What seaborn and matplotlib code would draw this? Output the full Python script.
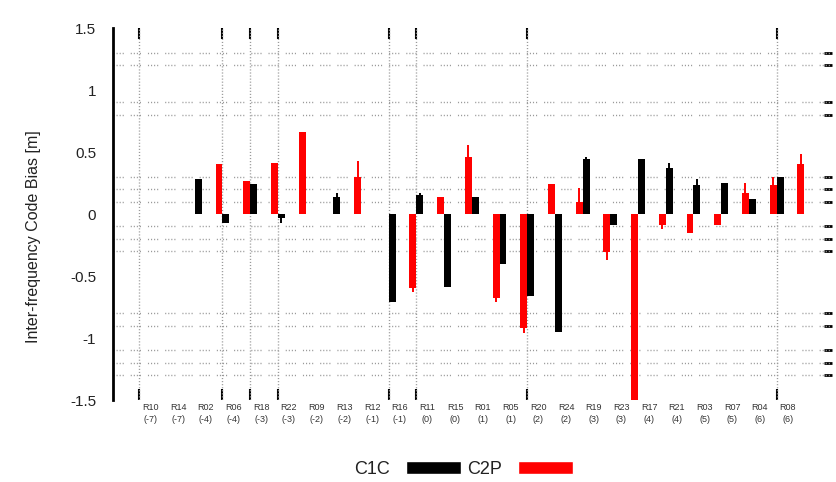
import numpy as np
import pandas as pd
import matplotlib
matplotlib.use("Agg")
import matplotlib.pyplot as plt
import seaborn as sns
from matplotlib.patches import Patch

# GLONASS satellites ordered by frequency channel
satellites = ["R10", "R14", "R02", "R06", "R18", "R22", "R09", "R13", "R12", "R16", "R11", "R15",
              "R01", "R05", "R20", "R24", "R19", "R23", "R17", "R21", "R03", "R07", "R04", "R08"]
channels = [-7, -7, -4, -4, -3, -3, -2, -2, -1, -1, 0, 0,
            1, 1, 2, 2, 3, 3, 4, 4, 5, 5, 6, 6]

# Inter-frequency code biases [m] and their uncertainties
c1c_bias = [0.0, 0.28, -0.07, 0.24, -0.03, 0.0, 0.14, 0.0, -0.71, 0.15, -0.59, 0.14,
            -0.40, -0.66, -0.95, 0.44, -0.09, 0.44, 0.37, 0.23, 0.25, 0.12, 0.30, 0.0]
c1c_err = [0, 0, 0, 0, 0.04, 0, 0.03, 0, 0, 0.02, 0, 0,
           0, 0, 0, 0.02, 0, 0, 0.04, 0.05, 0, 0, 0, 0]
c2p_bias = [0.0, 0.0, 0.40, 0.27, 0.41, 0.66, 0.0, 0.30, 0.0, -0.60, 0.14, 0.46,
            -0.68, -0.92, 0.24, 0.10, -0.31, -1.50, -0.09, -0.15, -0.09, 0.17, 0.23, 0.40]
c2p_err = [0, 0, 0, 0, 0, 0, 0, 0.13, 0, 0.03, 0, 0.10,
           0.03, 0.04, 0, 0.11, 0.06, 0, 0.03, 0, 0, 0.08, 0.07, 0.08]

y_major = [-1.5, -1.0, -0.5, 0.0, 0.5, 1.0, 1.5]
y_major_labels = ["-1.5", "-1", "-0.5", "0", "0.5", "1", "1.5"]
y_grid = [1.3, 1.2, 0.9, 0.8, 0.3, 0.2, 0.1, -0.1, -0.2, -0.3, -0.8, -0.9, -1.1, -1.2, -1.3]
x_grid = [-1, 2, 3, 4, 8, 9, 13, 22]

sns.set_style("white")
plt.rcParams["font.family"] = ["Liberation Sans", "DejaVu Sans"]

colors = {"C1C": "#000000", "C2P": "#ff0000"}

df = pd.DataFrame({
    "sat": satellites * 2,
    "signal": ["C1C"] * len(satellites) + ["C2P"] * len(satellites),
    "bias": c1c_bias + c2p_bias,
})

fig = plt.figure(figsize=(8.37, 4.82), dpi=100)
ax = fig.add_axes([113 / 837, 1 - 400 / 482, (832 - 113) / 837, 372 / 482])

sns.barplot(data=df, x="sat", y="bias", hue="signal", hue_order=["C2P", "C1C"],
            order=satellites, palette=colors, saturation=1, width=0.5, linewidth=0,
            legend=False, ax=ax, zorder=3)

# outward error whiskers on each bar
for cont, vals, errs, key in [(ax.containers[0], c2p_bias, c2p_err, "C2P"),
                              (ax.containers[1], c1c_bias, c1c_err, "C1C")]:
    for patch, v, e in zip(cont.patches, vals, errs):
        if e > 0:
            xc = patch.get_x() + patch.get_width() / 2
            s = 1 if v >= 0 else -1
            ax.vlines(xc, v, v + s * e, color=colors[key], lw=1.4, zorder=3)

ax.set_xlim(-1.95, 24.0)
ax.set_ylim(-1.5, 1.5)

# category labels
ax.set_xticks(np.arange(len(satellites)) - 0.6)
ax.set_xticklabels([f"{s}\n({c})" for s, c in zip(satellites, channels)],
                   fontsize=6.5, color="#333333", linespacing=1.4)
ax.set_xticks(x_grid, minor=True)
ax.tick_params(axis="x", which="major", length=0, pad=2)
ax.tick_params(axis="x", which="minor", top=True, bottom=True, direction="in",
               length=8, width=1.5, color="black")

ax.set_yticks(y_major)
ax.set_yticklabels(y_major_labels, fontsize=11, color="#222222")
ax.set_yticks(y_grid, minor=True)
ax.tick_params(axis="y", which="major", length=0, pad=12)
ax.tick_params(axis="y", which="minor", left=False, right=True, direction="in",
               length=6, width=2, color="black")

ax.grid(False)
for yv in y_grid:
    ax.axhline(yv, color="#9a9a9a", lw=1.0, zorder=1,
               ls=(0, (0.8, 1.4, 0.8, 1.4, 0.8, 1.4, 0.8, 5.0)))
for xv in x_grid:
    ax.axvline(xv, color="#9a9a9a", lw=1.0, zorder=1, ls=(0, (0.8, 1.4)))

for side in ["top", "right", "bottom"]:
    ax.spines[side].set_visible(False)
ax.spines["left"].set_color("black")
ax.spines["left"].set_linewidth(2)

ax.set_xlabel("")
ax.set_ylabel("Inter-frequency Code Bias [m]", fontsize=11.5, color="#222222")
ax.yaxis.set_label_coords(-0.100, 0.44)

handles = [Patch(facecolor=colors["C1C"], label="C1C"),
           Patch(facecolor=colors["C2P"], label="C2P")]
fig.legend(handles=handles, loc="center", bbox_to_anchor=(0.554, 0.026), ncol=2,
           frameon=False, markerfirst=False, fontsize=13, handlelength=3.05,
           handleheight=0.67, handletextpad=0.9, columnspacing=0.3,
           labelcolor="#222222")

fig.savefig("out.png", dpi=100)
